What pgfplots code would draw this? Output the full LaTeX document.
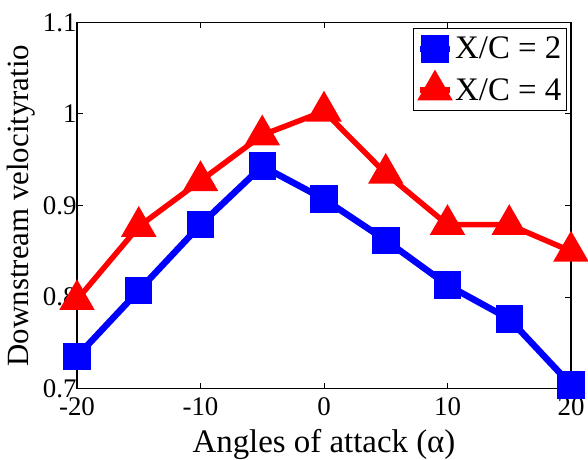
\documentclass[border=0pt]{standalone}
\usepackage{fontspec}
\setmainfont{Liberation Serif}
\usepackage{pgfplots}
\pgfplotsset{compat=1.18}
\begin{document}
\begin{tikzpicture}
\begin{axis}[
  scale only axis,
  width=494bp, height=366bp,
  xmin=-20, xmax=20, ymin=0.7, ymax=1.1,
  xtick={-20,-10,0,10,20},
  ytick={0.7,0.8,0.9,1,1.1},
  yticklabels={0.7,0.8,0.9,1,1.1},
  tick align=inside,
  major tick length=6bp,
  axis line style={line width=1.2bp},
  tick style={line width=1bp,black},
  /pgf/number format/assume math mode=true,
  ticklabel style={font=\fontsize{27}{30}\selectfont},
  xticklabel style={yshift=-6bp},
  yticklabel style={xshift=3bp},
  xlabel={Angles of attack (α)},
  ylabel={Downstream velocityratio},
  xlabel style={font=\fontsize{33}{38}\selectfont, at={(axis description cs:0.5,0)}, anchor=center, yshift=-56bp},
  ylabel style={font=\fontsize{31}{36}\selectfont, at={(axis description cs:-0.113,0.5)}, anchor=center},
  legend style={at={(axis description cs:0.992,0.986)}, anchor=north east,
    font=\fontsize{33}{38}\selectfont, draw=black, line width=1.2bp,
    inner xsep=3bp, inner ysep=4bp, row sep=8bp,
    nodes={inner xsep=2bp, inner ysep=5bp}},
  legend cell align=left,
  legend image code/.code={\draw[mark repeat=2,mark phase=2,#1] plot coordinates {(0bp,0bp) (15bp,0bp) (30bp,0bp)};},
  clip=false,
]
\addplot[blue, line width=6.5bp, mark=square*, mark size=10.5bp, mark options={solid}] coordinates {
(-20,0.735) (-15,0.807) (-10,0.879) (-5,0.943) (0,0.907) (5,0.862) (10,0.813) (15,0.776) (20,0.704)
};
\addlegendentry{X/C = 2}
\addplot[red, line width=5.5bp, mark=triangle*, mark size=15bp, mark options={solid}] coordinates {
(-20,0.797) (-15,0.877) (-10,0.927) (-5,0.977) (0,1.003) (5,0.935) (10,0.879) (15,0.879) (20,0.850)
};
\addlegendentry{X/C = 4}
\coordinate (sw) at (rel axis cs:0,0);
\coordinate (ne) at (rel axis cs:1,1);
\end{axis}
\pgfresetboundingbox
\path ([shift={(-77bp,-71.5bp)}]sw) rectangle ([shift={(17bp,22.5bp)}]ne);
\end{tikzpicture}
\end{document}
